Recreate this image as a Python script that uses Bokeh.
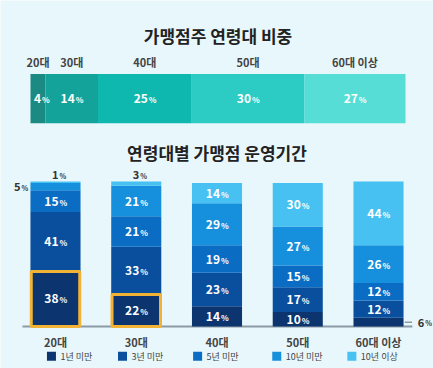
from bokeh.plotting import figure
from bokeh.models import Range1d, ColumnDataSource
from bokeh.core.properties import value
from bokeh.embed import file_html
from bokeh.resources import INLINE
import numpy as np

# ---------------- data ----------------
age_groups = ["20대", "30대", "40대", "50대", "60대 이상"]
age_share = [4, 14, 25, 30, 27]
age_colors = ["#1b8a83", "#13a39b", "#0fb8ae", "#2ccbc3", "#56ddd6"]

periods = ["1년 미만", "3년 미만", "5년 미만", "10년 미만", "10년 이상"]
under1 = [38, 22, 14, 10, 6]
under3 = [41, 33, 23, 17, 12]
under5 = [15, 21, 19, 15, 12]
under10 = [5, 21, 29, 27, 26]
over10 = [1, 3, 14, 30, 44]
period_colors = ["#0c3570", "#0a4f9e", "#0b6cc4", "#1690dc", "#46c1f1"]
highlight = [True, True, False, False, False]

BG = "#e8f7fb"
FONT = "Noto Sans CJK KR"

p = figure(width=433, height=368, x_range=Range1d(-0.681, 4.681), y_range=Range1d(-28.97, 224.8),
           output_backend="svg", toolbar_location=None, min_border=0,
           x_axis_location=None, y_axis_location=None)
p.extra_x_ranges = {"top": Range1d(-8.0, 107.467)}
p.extra_y_ranges = {"top": Range1d(-5.5, 2.0)}
p.background_fill_color = BG
p.border_fill_color = BG
p.outline_line_color = None
p.xgrid.visible = False
p.ygrid.visible = False

TOP = dict(x_range_name="top", y_range_name="top")


def pct(xs, ys, vals, color="white", size=12, dx=3, **kw):
    src = ColumnDataSource(dict(x=list(xs), y=list(ys), t=[str(v) for v in vals], s=["%"] * len(vals)))
    p.text(x="x", y="y", text="t", source=src, text_align="right", text_baseline="middle",
           x_offset=dx, text_color=color, text_font=value(FONT), text_font_style="bold",
           text_font_size=f"{size}px", **kw)
    p.text(x="x", y="y", text="s", source=src, text_align="left", text_baseline="middle",
           x_offset=dx + 1, y_offset=1, text_color=color, text_font=value(FONT),
           text_font_style="bold", text_font_size=f"{size - 4}px", **kw)


# ---------------- top chart ----------------
rights = np.cumsum(age_share)
lefts = rights - np.array(age_share)
mids = (lefts + rights) / 2
p.hbar(y=[0] * len(age_share), left=lefts, right=rights, height=1, fill_color=age_colors,
       line_color=None, **TOP)
p.text(x=[50], y=[1.283], text=["가맹점주 연령대 비중"], text_align="center", text_baseline="middle",
       text_color="#222222", text_font=value(FONT), text_font_style="bold", text_font_size="17px", **TOP)
p.text(x=mids, y=[0.739] * len(mids), text=age_groups, text_align="center", text_baseline="middle",
       text_color="#444444", text_font=value(FONT), text_font_style="bold", text_font_size="11px", **TOP)
pct(mids, [0] * len(mids), age_share, size=12, **TOP)

# ---------------- bottom chart ----------------
xs = np.arange(len(age_groups))
series = [under1, under3, under5, under10, over10]
keys = ["s0", "s1", "s2", "s3", "s4"]
src = ColumnDataSource(dict(x=xs, **{k: v for k, v in zip(keys, series)}))

# baseline
p.segment(x0=[-0.409], y0=[0], x1=[4.42], y1=[0], line_color="#8c9aa5", line_width=2)

p.vbar_stack(keys, x="x", width=0.62, fill_color=period_colors, line_color=None, source=src)

# highlight boxes
hx = [x for x, h in zip(xs, highlight) if h]
htop = [v for v, h in zip(under1, highlight) if h]
p.vbar(x=hx, bottom=0, top=htop, width=0.60, fill_alpha=0, line_color="#f2b233", line_width=3)

# labels inside segments
arr = np.array(series)
tops = np.cumsum(arr, axis=0)
bots = tops - arr
midv = (tops + bots) / 2
in_x, in_y, in_v = [], [], []
for si in range(arr.shape[0]):
    for ci in range(arr.shape[1]):
        v = arr[si, ci]
        if v >= 10:
            in_x.append(xs[ci]); in_y.append(midv[si, ci]); in_v.append(v)
pct(in_x, in_y, in_v, size=12)

# small values outside bars
ax, ay, av = [], [], []
for ci in range(arr.shape[1]):
    if arr[4, ci] < 5:
        ax.append(xs[ci]); ay.append(tops[4, ci] + 4.5); av.append(arr[4, ci])
pct(ax, ay, av, color="#333333", size=11)
pct([-0.47], [midv[3, 0]], [arr[3, 0]], color="#333333", size=11)
p.segment(x0=[4.325], y0=[midv[0, 4]], x1=[4.415], y1=[midv[0, 4]], line_color="#8c9aa5", line_width=1.5)
pct([4.53], [midv[0, 4]], [arr[0, 4]], color="#333333", size=11)

# title
p.text(x=[2], y=[120], text=["연령대별 가맹점 운영기간"], text_align="center", text_baseline="middle",
       text_color="#222222", text_font=value(FONT), text_font_style="bold", text_font_size="17px")
# category labels
p.text(x=xs, y=[-11] * len(xs), text=age_groups, text_align="center", text_baseline="middle",
       text_color="#444444", text_font=value(FONT), text_font_style="bold", text_font_size="11px")
# legend
lx = [-0.05, 0.83, 1.76, 2.74, 3.67]
p.scatter(x=lx, y=[-20.5] * 5, marker="square", size=9, fill_color=period_colors, line_color=None)
p.text(x=lx, y=[-20.5] * 5, text=periods, x_offset=9, text_align="left", text_baseline="middle",
       text_color="#444444", text_font=value(FONT), text_font_size="9px")

open("out.html", "w").write(file_html(p, INLINE))
